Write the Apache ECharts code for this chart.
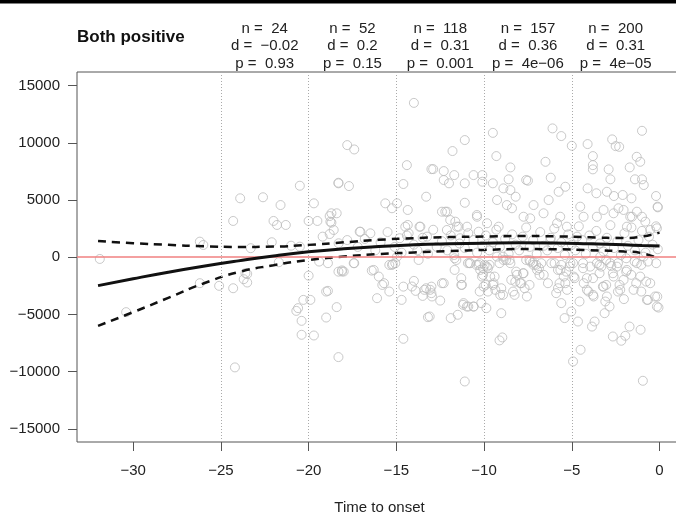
<!DOCTYPE html>
<html>
<head>
<meta charset="utf-8">
<script src="https://cdn.jsdelivr.net/npm/echarts@6/dist/echarts.min.js"></script>
<style>
html, body { margin: 0; padding: 0; background: #fff; }
#chart { width: 676px; height: 532px; }
</style>
</head>
<body>
<div id="chart"></div>
<script>
// axis ticks
const xTicks = [-30, -25, -20, -15, -10, -5, 0]
const yTicks = [-15000, -10000, -5000, 0, 5000, 10000, 15000]

// 5-day bins and their per-bin stats
const binBreaks = [-25, -20, -15, -10, -5]
const binCenters = [-22.5, -17.5, -12.5, -7.5, -2.5]
const binN = ['24', '52', '118', '157', '200']
const binD = ['−0.02', '0.2', '0.31', '0.36', '0.31']
const binP = ['0.93', '0.15', '0.001', '4e−06', '4e−05']

// fitted curve and confidence band
const fitT = [-32, -30, -28, -26, -24, -22, -20, -18, -16, -14, -12, -10, -8, -6, -4, -2, -1, 0]
const fitMid = [-2480, -1880, -1310, -790, -320, 110, 470, 740, 940, 1080, 1170, 1230, 1260, 1240, 1170, 1080, 1030, 990]
const fitUpper = [1420, 1230, 1080, 960, 900, 930, 1080, 1300, 1520, 1670, 1760, 1810, 1850, 1830, 1740, 1680, 1800, 2150]
const fitLower = [-6000, -4800, -3550, -2300, -1300, -700, -240, 60, 280, 420, 540, 640, 710, 700, 620, 500, 350, -170]

// observations [time to onset, delta EBNA]
const points = [
    [-31.9, -150], [-30.4, -4800], [-26.2, 1360], [-26.0, 1070], [-26.2, -2270], [-25.1, -2500], [-24.3, 3170], [-23.9, 5150],
    [-24.3, -2710], [-23.5, -1460], [-23.7, -1920], [-23.5, -2210], [-23.3, 790], [-22.6, 5240], [-22.1, 1310], [-22.0, 3170],
    [-21.8, 2820], [-21.3, 2820], [-21.6, 4560], [-21.7, -440], [-21.0, 1010], [-20.5, 6250], [-20.5, 925], [-20.0, -1610],
    [-20.0, 3170], [-19.5, 3170], [-19.7, 4710], [-20.3, -3730], [-19.9, -3730], [-20.6, -4450], [-19.4, -380], [-18.9, -520],
    [-19.2, 1800], [-18.8, 2030], [-18.7, 3020], [-18.8, 3600], [-18.4, 3840], [-18.9, -2940], [-18.3, -1260], [-18.3, 6460],
    [-18.4, -4360], [-24.2, -9630], [-23.6, -1400], [-20.7, -4690], [-20.4, -5560], [-20.4, -6780], [-19.7, -6840], [-19.0, -3000],
    [-19.0, -5270], [-18.3, -8730], [-18.1, -1150], [-17.4, -520], [-16.4, -1170], [-16.0, -1690], [-15.8, -2420], [-15.7, -2270],
    [-15.4, -3000], [-16.1, -3580], [-15.4, -670], [-15.2, -610], [-14.6, -2570], [-14.7, -3730], [-14.6, -7130], [-14.0, -2070],
    [-13.9, -2940], [-13.4, -2850], [-13.5, -3380], [-13.3, -2710], [-13.2, -5240],
    [-14.0, 13490], [-17.8, 9800], [-17.4, 9420], [-18.3, 6510], [-17.7, 6220], [-18.7, 3840], [-14.4, 8050], [-14.6, 6400],
    [-13.3, 5290], [-13.0, 7700], [-12.9, 7700], [-12.3, 7530], [-12.3, 6750], [-12.0, 6460], [-11.7, 7180], [-11.8, 9280],
    [-11.1, 10240], [-11.1, 4760], [-11.1, 6460], [-10.6, 7180], [-10.1, 7180], [-10.1, 6600], [-9.5, 10870], [-9.3, 8840],
    [-8.5, 7850], [-9.5, 6460], [-8.6, 6810], [-8.9, 6020], [-8.5, 5870], [-8.2, 5290], [-7.6, 6750], [-7.5, 6690],
    [-6.5, 8340], [-6.1, 11260], [-5.6, 10590], [-6.2, 6950], [-5.0, 9740], [-4.1, 9890], [-3.8, 8840], [-3.8, 8050],
    [-3.8, 7680], [-2.9, 7680], [-2.7, 10300], [-2.5, 9710], [-2.3, 9650], [-1.0, 11050], [-1.3, 8780], [-1.1, 8340],
    [-1.7, 7850], [-1.4, 6810], [-1.0, 6810], [-0.9, 6310], [-2.8, 6810], [-4.1, 6020], [-3.6, 5590], [-3.0, 5720],
    [-2.6, 5350], [-2.1, 5440], [-1.6, 5150], [-0.2, 5350], [-0.1, 4360],
    [-17.09, 2230], [-16.48, 2090], [-15.63, 4710], [-15.25, 4280], [-14.96, 4710], [-14.35, 4130], [-14.35, 2820], [-13.68, 2670],
    [-13.25, 1800], [-12.11, 3980], [-11.64, 3110], [-11.45, 2670], [-10.97, 2670], [-10.40, 3540], [-10.31, 2230], [-9.83, 2970],
    [-9.26, 5000], [-8.70, 4560], [-8.41, 4280], [-7.75, 3540], [-7.37, 3400], [-7.18, 4560], [-6.61, 3840], [-6.32, 5000],
    [-5.75, 5720], [-5.37, 6160], [-5.66, 3540], [-5.28, 2670], [-4.52, 4420], [-4.33, 3540], [-3.57, 3540], [-3.19, 4130],
    [-2.62, 3840], [-2.34, 4280], [-2.05, 4130], [-1.86, 2670], [-1.57, 3540], [-1.29, 3980], [-1.00, 3540], [-0.81, 3110],
    [-0.53, 2380], [-0.15, 2530], [-0.11, 4420],
    [-18.76, 3110], [-18.57, 2380], [-18.29, 1220], [-18.10, -1250], [-18.00, -1250], [-17.43, -520], [-17.05, 2230], [-16.29, -1110],
    [-15.25, -670], [-15.06, -520], [-14.96, 50], [-14.81, 1660], [-14.49, 2670], [-14.30, 2090], [-14.11, -2560], [-13.73, -240],
    [-13.63, 2670], [-13.07, -2850], [-12.97, -3430], [-12.40, 3980], [-12.21, 3980], [-12.12, 2380], [-11.93, 3250], [-11.55, 2670],
    [-11.36, 1660], [-11.26, -2420], [-11.17, -4010], [-10.98, -4310], [-10.79, -520], [-10.60, -4310], [-10.41, 3690], [-10.31, -670],
    [-10.22, -1110], [-10.12, -1690], [-10.03, -2560], [-9.84, -820], [-9.65, -1690], [-9.46, -2270], [-9.36, -2850], [-9.27, 50],
    [-9.17, 2670], [-9.08, -3290], [-8.89, -240], [-8.50, -520], [-8.22, -2130], [-8.13, -1540], [-7.94, -2270], [-7.75, -1400],
    [-7.56, -3430], [-7.37, -380], [-7.18, -670], [-6.98, -1110], [-6.60, -1540], [-6.22, 1510], [-5.84, 2970], [-5.65, -1110],
    [-5.46, -1690], [-5.37, -2270], [-5.27, -2850], [-5.08, -520], [-4.89, -1690], [-4.70, 1800], [-4.32, -2270], [-4.14, -2850],
    [-3.95, -820], [-3.76, -3430], [-3.57, -520], [-3.38, 50], [-3.19, -2560], [-3.00, -3430], [-2.81, -520], [-2.62, -1690],
    [-2.43, -820], [-2.24, -2850], [-2.05, -1980], [-1.86, -1110], [-1.67, 3540], [-1.48, -2850], [-1.29, -520], [-1.10, -1690],
    [-0.91, 50], [-0.72, -3730], [-0.53, -2270], [-0.25, -3430], [-0.15, -4310],
    [-13.1, -5180], [-11.9, -5320], [-11.5, -5030], [-12.5, -3790], [-13.0, -2570], [-13.0, -3140], [-12.4, -2270], [-12.3, -2270],
    [-11.3, -2420], [-11.3, -1830], [-11.2, -4160], [-10.9, -4310], [-10.6, -4310], [-11.1, -10860],
    [-10.25, -3000], [-9.78, -3000], [-10.16, -4010], [-9.87, -4450], [-9.91, -2420], [-9.49, -2420], [-9.40, -1690], [-9.02, -4890],
    [-9.12, -7270], [-8.96, -7010], [-8.92, -3290], [-9.02, -2710], [-8.45, -1980], [-8.35, -3000], [-8.26, -3290], [-8.17, -1260],
    [-7.78, -1400], [-7.88, -2270], [-7.69, -2710], [-7.41, -2420], [-6.84, -1540], [-6.87, -960], [-6.36, -2270], [-5.89, -3140],
    [-5.79, -2710], [-5.70, -2270], [-5.60, -4010], [-5.41, -5320], [-5.03, -4750], [-4.93, -9110], [-4.50, -8090], [-4.65, -5620],
    [-4.56, -3870], [-4.84, -1830], [-4.14, -1830], [-4.05, -3000], [-3.79, -3290], [-3.85, -6060], [-3.70, -5620], [-3.23, -2570],
    [-3.04, -2420], [-3.13, -4890], [-3.09, -3870], [-2.85, -4310], [-2.66, -6930], [-2.18, -7300], [-1.95, -6870], [-2.37, -3000],
    [-2.28, -2420], [-2.03, -3660], [-1.71, -6060], [-1.08, -6340], [-1.04, -3000], [-0.66, -3730], [-0.76, -2130], [-0.13, -3440],
    [-0.06, -4400], [-0.95, -10800], [-1.33, -2270], [-1.61, -1540], [-1.90, -1260], [-2.66, -1400], [-3.42, -1400], [-3.79, -1830],
    [-3.32, -820], [-2.75, -760], [-4.36, -520], [-4.93, -520], [-5.60, -670], [-6.17, -520], [-6.74, -520], [-7.21, -470],
    [-7.60, -240], [-8.74, -240], [-9.12, -520], [-9.69, -670], [-10.06, -960], [-10.44, -670], [-10.92, -520], [-11.58, -240],
    [-11.68, -1110],
    [-11.68, -90], [-10.83, -520], [-10.26, -520], [-9.97, -670], [-9.78, -960], [-10.06, -1540], [-8.92, 50], [-8.55, -240],
    [-7.41, -240], [-7.03, -670], [-5.98, -520], [-5.79, -1110], [-5.32, -1260], [-5.13, -820], [-4.36, -960], [-3.42, -670],
    [-3.04, -240], [-2.37, -520], [-1.90, -90], [-1.42, -380], [-1.04, -670], [-0.66, -380], [-0.19, -520],
    [-17.8, 1500], [-17.2, 900], [-16.8, 1600], [-16.2, 600], [-15.9, 1300], [-15.5, 2200], [-15.1, 900], [-14.7, 400],
    [-14.4, 1900], [-14.0, 1100], [-13.8, 600], [-13.5, 1700], [-13.2, 300], [-12.9, 2400], [-12.7, 900], [-12.4, 1400],
    [-12.1, 600], [-11.9, 1900], [-11.7, 200], [-11.4, 1200], [-11.1, 800], [-10.9, 2100], [-10.6, 1500], [-10.4, 400],
    [-10.1, 1000], [-9.9, 1900], [-9.7, 600], [-9.5, 1300], [-9.3, 2400], [-9.1, 900], [-8.8, 1600], [-8.6, 300],
    [-8.4, 2000], [-8.2, 1100], [-8.0, 600], [-7.8, 1800], [-7.6, 2600], [-7.4, 900], [-7.2, 1500], [-7.0, 300],
    [-6.8, 2200], [-6.6, 1000], [-6.4, 600], [-6.2, 1700], [-6.0, 2500], [-5.8, 800], [-5.6, 1300], [-5.4, 200],
    [-5.2, 2000], [-5.0, 1100], [-4.8, 600], [-4.6, 2700], [-4.4, 1500], [-4.2, 300], [-4.0, 1900], [-3.8, 900],
    [-3.6, 2300], [-3.4, 1200], [-3.2, 500], [-3.0, 1700], [-2.8, 2800], [-2.6, 800], [-2.4, 1400], [-2.2, 200],
    [-2.0, 2100], [-1.8, 1000], [-1.6, 2600], [-1.4, 600], [-1.2, 1500], [-1.0, 2300], [-0.8, 400], [-0.6, 1800],
    [-0.4, 1100], [-0.2, 2700], [-0.1, 700]
]

const FONT = '"Liberation Sans", Arial, sans-serif'
const minus = (v) => String(v).replace('-', '−')
const pairs = (ys) => fitT.map((t, i) => [t, ys[i]])

const chart = echarts.init(document.getElementById('chart'), null, { renderer: 'canvas' })

chart.setOption({
    animation: false,
    backgroundColor: '#fff',
    grid: {
        show: true,
        left: 77,
        top: 72,
        width: 605,
        height: 370,
        containLabel: false,
        outerBoundsMode: 'none',
        borderColor: '#555',
        borderWidth: 1,
        backgroundColor: 'transparent'
    },
    xAxis: {
        type: 'value',
        min: -33.2,
        max: 1.28,
        name: 'Time to onset',
        nameLocation: 'middle',
        nameGap: 58,
        nameTextStyle: { color: '#222', fontSize: 15, fontFamily: FONT },
        axisLine: { show: false, onZero: false },
        axisTick: { show: true, length: 9, customValues: xTicks, lineStyle: { color: '#555' } },
        axisLabel: { customValues: xTicks, margin: 21, color: '#222', fontSize: 15, fontFamily: FONT, formatter: minus },
        splitLine: { show: false }
    },
    yAxis: {
        type: 'value',
        min: -16150,
        max: 16190,
        name: 'delta EBNA',
        nameLocation: 'middle',
        nameGap: 58,
        nameTextStyle: { color: '#222', fontSize: 15, fontFamily: FONT },
        axisLine: { show: false, onZero: false },
        axisTick: { show: true, length: 9, customValues: yTicks, lineStyle: { color: '#555' } },
        axisLabel: { customValues: yTicks, margin: 17, color: '#222', fontSize: 15, fontFamily: FONT, formatter: minus },
        splitLine: { show: false }
    },
    series: [
        {
            type: 'scatter',
            data: points,
            symbol: 'circle',
            symbolSize: 9,
            silent: true,
            itemStyle: { color: 'transparent', borderColor: '#bcbcbc', borderWidth: 1 },
            z: 2
        },
        {
            type: 'line',
            data: [],
            silent: true,
            markLine: {
                silent: true,
                symbol: ['none', 'none'],
                label: { show: false },
                lineStyle: { color: '#aaa', type: [1, 2], width: 1 },
                data: binBreaks.map((b) => ({ xAxis: b })).concat([
                    { yAxis: 0, lineStyle: { color: '#f08080', type: 'solid', width: 1.5 } }
                ])
            },
            z: 3
        },
        {
            type: 'line',
            data: pairs(fitUpper),
            showSymbol: false,
            smooth: true,
            silent: true,
            lineStyle: { color: '#111', width: 2.5, type: [8, 6] },
            z: 4
        },
        {
            type: 'line',
            data: pairs(fitLower),
            showSymbol: false,
            smooth: true,
            silent: true,
            lineStyle: { color: '#111', width: 2.5, type: [8, 6] },
            z: 4
        },
        {
            type: 'line',
            data: pairs(fitMid),
            showSymbol: false,
            smooth: true,
            silent: true,
            lineStyle: { color: '#111', width: 3 },
            z: 5
        }
    ]
})

// header: black rule, panel title, per-bin stats above the plot
let header = [
    { type: 'rect', shape: { x: 0, y: 0, width: 676, height: 3.5 }, style: { fill: '#000' } },
    {
        type: 'text', x: 77, y: 37,
        style: { text: 'Both positive', font: 'bold 17px ' + FONT, fill: '#111', align: 'left', verticalAlign: 'middle' }
    }
]
binCenters.forEach((c, i) => {
    const px = chart.convertToPixel({ xAxisIndex: 0 }, c)
    header.push({
        type: 'text', x: px, y: 46,
        style: {
            text: 'n =  ' + binN[i] + '\nd =  ' + binD[i] + '\np =  ' + binP[i],
            font: '15px ' + FONT, fill: '#222', align: 'center', verticalAlign: 'middle', lineHeight: 17.5
        }
    })
})
chart.setOption({ graphic: header })
</script>
</body>
</html>
